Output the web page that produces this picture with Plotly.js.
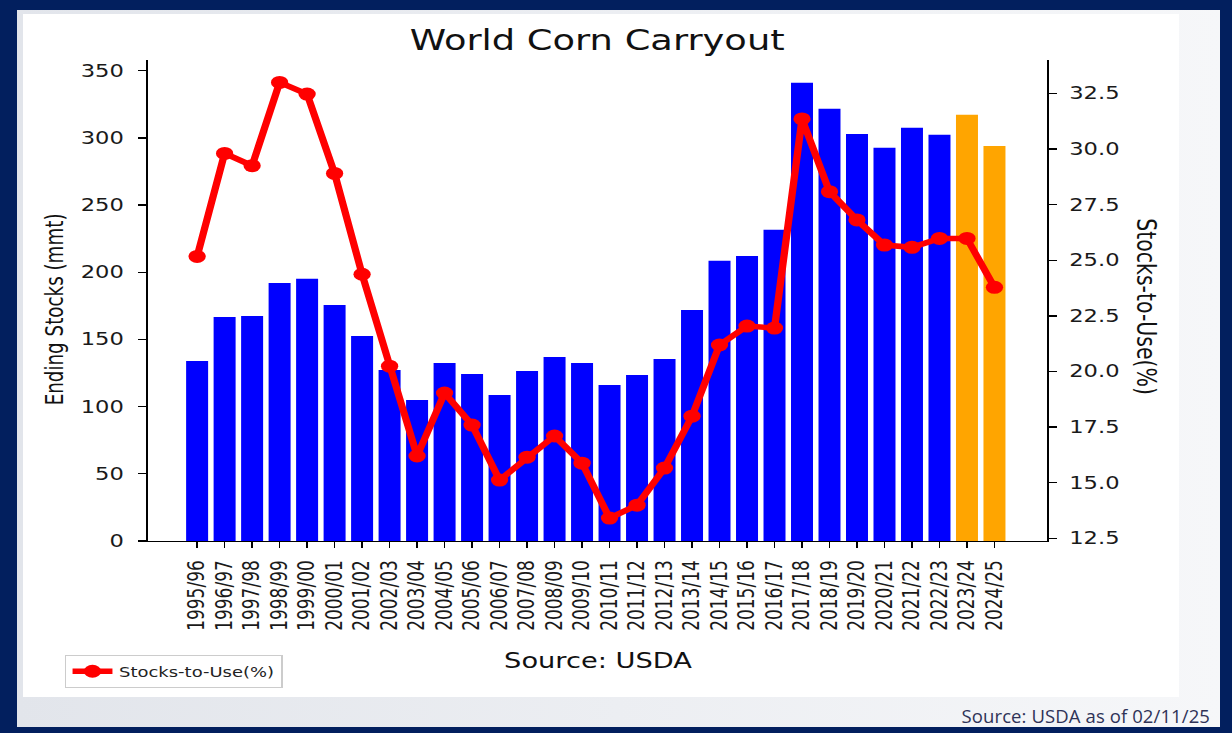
<!DOCTYPE html>
<html><head><meta charset="utf-8">
<script src="https://cdn.plot.ly/plotly-3.0.1.min.js"></script>
<style>
html,body{margin:0;padding:0;width:1232px;height:733px;overflow:hidden;background:#021f5e;}
#frame{position:absolute;left:17px;top:10px;width:1203px;height:717px;background:linear-gradient(90deg,#e2e5eb,#f6f7f9);}
#panel{position:absolute;left:23px;top:14px;width:1156px;height:683px;background:#ffffff;}
#wrap{position:absolute;left:0;top:0;width:926px;height:733px;transform:scale(1.33,1);transform-origin:0 0;}
#chart{width:926px;height:733px;}
#src{position:absolute;right:22px;top:703px;font-family:'Open Sans',sans-serif;font-size:18.5px;letter-spacing:0.1px;color:#2f3357;white-space:nowrap;}
</style></head>
<body>
<div id="frame"></div>
<div id="panel"></div>
<div id="wrap"><div id="chart"></div></div>
<div id="src">Source: USDA as of 02/11/25</div>
<script>
// ---- data ----
const seasons = ['1995/96','1996/97','1997/98','1998/99','1999/00','2000/01','2001/02','2002/03','2003/04','2004/05',
  '2005/06','2006/07','2007/08','2008/09','2009/10','2010/11','2011/12','2012/13','2013/14','2014/15',
  '2015/16','2016/17','2017/18','2018/19','2019/20','2020/21','2021/22','2022/23','2023/24','2024/25'];
const endingStocks = [134.0,166.8,167.5,192.1,195.1,175.7,152.6,127.3,105.0,132.5,
  124.3,108.7,126.6,137.0,132.5,116.2,123.6,135.5,172.0,208.5,
  212.2,231.6,341.0,321.7,303.0,292.6,307.5,302.3,317.2,294.0];
const stocksToUse = [25.17,29.80,29.25,32.99,32.47,28.90,24.37,20.24,16.20,19.03,
  17.59,15.12,16.15,17.10,15.88,13.41,13.99,15.66,17.99,21.19,
  22.04,21.95,31.35,28.08,26.81,25.68,25.58,25.98,25.98,23.78];
const projectedSeasons = ['2023/24','2024/25'];
const leftTicks = [0,50,100,150,200,250,300,350];
const rightTicks = [12.5,15.0,17.5,20.0,22.5,25.0,27.5,30.0,32.5];

// ---- layout helpers (page px -> paper) ----
const S = 1.33;
const W = 926, H = 733;
const M = {l:148/S, r:W-1046.5/S, t:60, b:733-541};
const PW = W - M.l - M.r, PH = H - M.t - M.b;
const px = x => (x/S - M.l)/PW;
const py = y => (541 - y)/PH;

const FONT = 'DejaVu Sans';
const barColors = seasons.map(s => projectedSeasons.includes(s) ? '#ffa500' : '#0000ff');

const traces = [
  {type:'bar', x:seasons, y:endingStocks, marker:{color:barColors, line:{width:0}},
   showlegend:false, yaxis:'y', hoverinfo:'skip'},
  {type:'scatter', mode:'lines+markers', x:seasons, y:stocksToUse, yaxis:'y2',
   name:'Stocks-to-Use(%)', line:{color:'#ff0000', width:5.5}, marker:{color:'#ff0000', size:13}}
];

const axFont = {family:FONT, size:17, color:'#1a1a1a'};
const layout = {
  width:W, height:H, margin:{l:M.l, r:M.r, t:M.t, b:M.b, pad:0},
  paper_bgcolor:'rgba(0,0,0,0)', plot_bgcolor:'rgba(0,0,0,0)',
  bargap:0.2, showlegend:true,
  xaxis:{type:'category', range:[-1.8,30.9], showline:true, linecolor:'#000', linewidth:1.4,
    ticks:'outside', ticklen:6, tickwidth:1.3, tickcolor:'#000', tickangle:-90,
    tickfont:axFont, showgrid:false, zeroline:false, ticklabelstandoff:5},
  yaxis:{range:[0,358], tickvals:leftTicks, showline:true, linecolor:'#000', linewidth:1.5,
    ticks:'outside', ticklen:6, tickwidth:1.3, tickcolor:'#000', tickfont:axFont,
    showgrid:false, zeroline:false, ticklabelstandoff:7},
  yaxis2:{overlaying:'y', side:'right', range:[12.38,34.0], tickvals:rightTicks, tickformat:'.1f',
    showline:true, linecolor:'#000', linewidth:1.5, ticks:'outside', ticklen:6, tickwidth:1.3,
    tickcolor:'#000', tickfont:axFont, showgrid:false, zeroline:false, ticklabelstandoff:6},
  legend:{x:px(65), y:py(655), xanchor:'left', yanchor:'top', bgcolor:'#fff',
    bordercolor:'#cccccc', borderwidth:1, font:{family:FONT, size:13.5, color:'#222'}},
  annotations:[
    {text:'World Corn Carryout', xref:'paper', yref:'paper', x:0.5, y:py(41), xanchor:'center', yanchor:'middle',
     showarrow:false, font:{family:FONT, size:27.7, color:'#111'}},
    {text:'Ending Stocks (mmt)', xref:'paper', yref:'paper', x:px(54), y:py(309), xanchor:'center', yanchor:'middle',
     textangle:-90, showarrow:false, font:{family:FONT, size:18.3, color:'#111'}},
    {text:'Stocks-to-Use(%)', xref:'paper', yref:'paper', x:px(1146), y:py(307), xanchor:'center', yanchor:'middle',
     textangle:90, showarrow:false, font:{family:FONT, size:20.5, color:'#111'}},
    {text:'Source: USDA', xref:'paper', yref:'paper', x:0.5, y:py(661), xanchor:'center', yanchor:'middle',
     showarrow:false, font:{family:FONT, size:20.5, color:'#111'}}
  ]
};
Plotly.newPlot('chart', traces, layout, {staticPlot:true, displayModeBar:false});
</script>
</body></html>
